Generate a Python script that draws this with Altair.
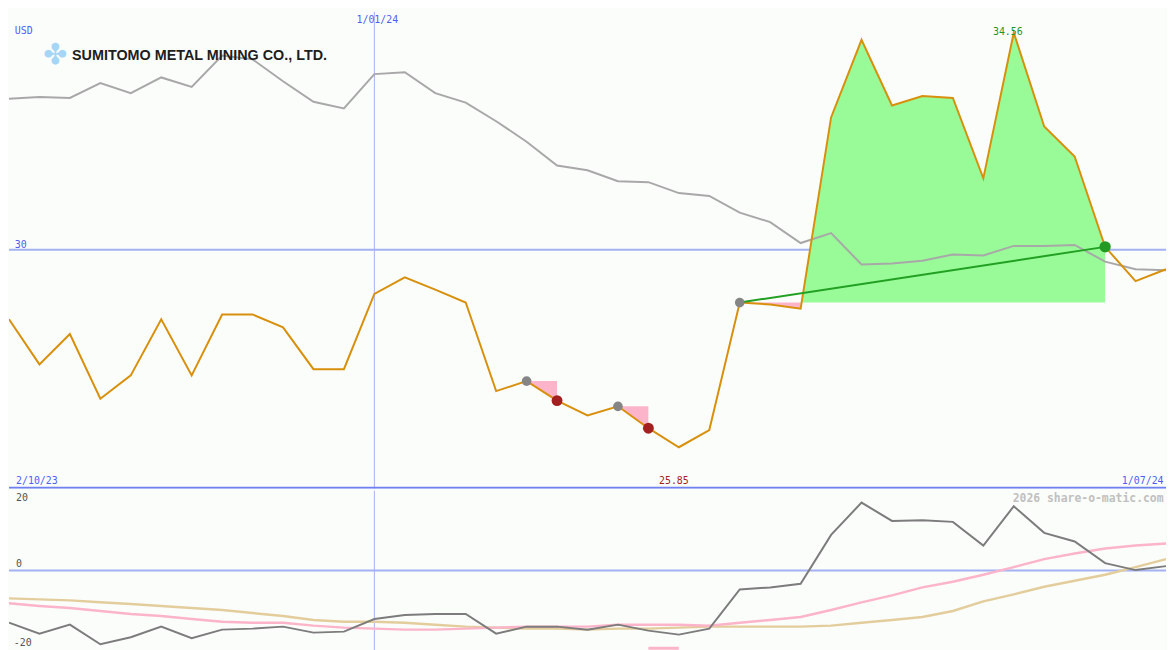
import altair as alt
import pandas as pd

# ---------------- data (weekly, 9/10/23 .. 1/07/24) ----------------
weeks = list(range(39))
price = [28.54, 27.59, 28.23, 26.87, 27.36, 28.54, 27.36, 28.64, 28.64, 28.37,
         27.49, 27.49, 29.07, 29.42, 29.16, 28.89, 27.03, 27.24, 26.83, 26.52,
         26.71, 26.25, 25.85, 26.21, 28.89, 28.85, 28.76, 32.78, 34.41, 33.03,
         33.23, 33.19, 31.50, 34.56, 32.59, 31.96, 30.06, 29.34, 29.59]
relative = [33.17, 33.21, 33.19, 33.50, 33.29, 33.62, 33.42, 34.08, 34.00, 33.54,
            33.11, 32.97, 33.69, 33.73, 33.29, 33.09, 32.70, 32.27, 31.77, 31.67,
            31.44, 31.42, 31.19, 31.13, 30.78, 30.58, 30.14, 30.35, 29.69, 29.71,
            29.77, 29.90, 29.88, 30.08, 30.08, 30.10, 29.75, 29.59, 29.57]
momentum = [-15.7, -19.0, -16.3, -22.2, -20.1, -16.9, -20.4, -17.8, -17.5, -16.9,
            -18.7, -18.4, -14.6, -13.4, -13.1, -13.1, -19.0, -16.9, -16.9, -17.8,
            -16.3, -18.1, -19.3, -17.5, -5.7, -5.1, -4.0, 10.7, 20.4, 14.9,
            15.1, 14.6, 7.5, 19.3, 11.3, 8.7, 2.2, 0.1, 1.3]
avg_fast = [-9.9, -10.7, -11.3, -12.2, -13.1, -13.7, -14.6, -15.4, -15.7, -15.7,
            -16.6, -17.2, -17.5, -17.8, -17.8, -17.5, -17.2, -16.9, -16.9, -16.9,
            -16.3, -16.3, -16.3, -16.6, -15.7, -14.9, -14.0, -11.9, -9.6, -7.5,
            -5.1, -3.4, -1.3, 1.0, 3.4, 5.1, 6.6, 7.5, 8.1]
avg_slow = [-8.4, -8.7, -9.0, -9.6, -10.1, -10.7, -11.3, -11.9, -12.8, -13.7,
            -14.9, -15.4, -15.4, -15.7, -16.3, -16.9, -17.2, -17.5, -17.5, -17.8,
            -17.5, -17.5, -17.2, -16.9, -16.9, -16.9, -16.9, -16.6, -15.7, -14.9,
            -14.0, -12.2, -9.3, -7.2, -4.9, -3.1, -1.3, 1.0, 3.4]

buy_weeks = [17, 20, 24]
sell_weeks = [18, 21]
signal_weeks = [36]
dip_spans = [(17, 18), (20, 21), (24, 26)]
rally_span = (26, 36)
rally_base_week = 24
trend_weeks = [24, 36]
year_week = 12
low_bar_weeks = [21, 22]

company = "SUMITOMO METAL MINING CO., LTD."
currency = "USD"
date_labels = ["2/10/23", "1/01/24", "1/07/24"]
top_tick = "30"
low_ticks = ["20", "0", "-20"]
watermark = "2026 share-o-matic.com"

# ---------------- layout ----------------
W = 1167
H_TOP = 481
H_BOT = 161
BG = "#fbfdfb"
BLUE_TXT = "#4f5ff2"
MONO = "DejaVu Sans Mono"

xs = alt.Scale(domain=[0, 38], nice=False, zero=False)
ys_top = alt.Scale(domain=[24.98, 35.0], nice=False, zero=False)
ys_bot = alt.Scale(domain=[-24, 24], nice=False, zero=False)

df = pd.DataFrame({"i": weeks, "price": price, "rel": relative,
                   "mom": momentum, "fast": avg_fast, "slow": avg_slow})


def X(field="i"):
    return alt.X(f"{field}:Q", scale=xs, axis=None)


def label(rows, yscale, **kw):
    return alt.Chart(pd.DataFrame(rows)).mark_text(**kw).encode(
        x=X(), y=alt.Y("v:Q", scale=yscale, axis=None), text="t:N")


# --- top panel ---
rule30 = alt.Chart(pd.DataFrame({"v": [30]})).mark_rule(
    color="#a4b2f4", strokeWidth=2, clip=True).encode(
    y=alt.Y("v:Q", scale=ys_top, axis=None))
sep = alt.Chart(pd.DataFrame({"v": [25.0]})).mark_rule(
    color="#6f80f0", strokeWidth=2, clip=True).encode(
    y=alt.Y("v:Q", scale=ys_top, axis=None))
vrule_top = alt.Chart(pd.DataFrame({"i": [year_week]})).mark_rule(
    color="#a4b2f4", strokeWidth=1, clip=True).encode(x=X())

rally_rows = [{"i": i, "p": price[i], "base": price[rally_base_week]}
              for i in range(rally_span[0], rally_span[1] + 1)]
rally = alt.Chart(pd.DataFrame(rally_rows)).mark_area(
    color="#98fb98", opacity=1, clip=True).encode(
    x=X(), y=alt.Y("p:Q", scale=ys_top, axis=None), y2="base:Q")

dip_rows = []
for k, (a, b) in enumerate(dip_spans):
    for i in range(a, b + 1):
        dip_rows.append({"seg": k, "i": i, "p": price[i], "base": price[a]})
dips = alt.Chart(pd.DataFrame(dip_rows)).mark_area(
    color="#fbb4c9", opacity=1, clip=True).encode(
    x=X(), y=alt.Y("p:Q", scale=ys_top, axis=None), y2="base:Q",
    detail="seg:N")

rel_line = alt.Chart(df).mark_line(color="#a8a8a8", strokeWidth=2, clip=True).encode(
    x=X(), y=alt.Y("rel:Q", scale=ys_top, axis=None))
price_line = alt.Chart(df).mark_line(color="#d8900c", strokeWidth=2, clip=True).encode(
    x=X(), y=alt.Y("price:Q", scale=ys_top, axis=None))

trend = alt.Chart(pd.DataFrame({"i": trend_weeks,
                                "p": [price[w] for w in trend_weeks]})).mark_line(
    color="#22a022", strokeWidth=2, clip=True).encode(
    x=X(), y=alt.Y("p:Q", scale=ys_top, axis=None))


def dots(ws, color, size):
    return alt.Chart(pd.DataFrame({"i": ws, "p": [price[w] for w in ws]})).mark_circle(
        color=color, size=size, opacity=1).encode(
        x=X(), y=alt.Y("p:Q", scale=ys_top, axis=None))


buy_dots = dots(buy_weeks, "#858585", 95)
sell_dots = dots(sell_weeks, "#a32020", 120)
sig_dots = dots(signal_weeks, "#229922", 130)

hi = price.index(max(price))
lo = price.index(min(price))

t_usd = label([{"i": 0.19, "v": 34.59, "t": currency}], ys_top, align="left",
              baseline="middle", font=MONO, fontSize=10, color=BLUE_TXT)
t_30 = label([{"i": 0.19, "v": 30.10, "t": top_tick}], ys_top, align="left",
             baseline="middle", font=MONO, fontSize=10, color=BLUE_TXT)
t_jan = label([{"i": year_week, "v": 34.82, "t": date_labels[1]}], ys_top, align="center",
              baseline="middle", font=MONO, fontSize=10, color=BLUE_TXT, dx=3)
t_start = label([{"i": 0.23, "v": 25.14, "t": date_labels[0]}], ys_top, align="left",
                baseline="middle", font=MONO, fontSize=10, color=BLUE_TXT)
t_end = label([{"i": 37.92, "v": 25.14, "t": date_labels[2]}], ys_top, align="right",
              baseline="middle", font=MONO, fontSize=10, color=BLUE_TXT)
t_lo = label([{"i": lo, "v": 25.14, "t": f"{min(price):.2f}"}], ys_top, align="center",
             baseline="middle", font=MONO, fontSize=10, color="#a82020", dx=-5)
t_hi = label([{"i": hi, "v": 34.57, "t": f"{max(price):.2f}"}], ys_top, align="center",
             baseline="middle", font=MONO, fontSize=10, color="#1f961f", dx=-6)
t_logo_icon = label([{"i": 1.52, "v": 34.08, "t": "✤"}], ys_top, align="center",
                    baseline="middle", font="DejaVu Sans", fontSize=29, color="#a6d6f6")
t_logo = label([{"i": 2.07, "v": 34.08, "t": company}], ys_top, align="left",
               baseline="middle", font="Liberation Sans", fontSize=14.5,
               fontWeight="bold", color="#1e1e1e")

top = alt.layer(
    rule30, vrule_top, rally, dips, rel_line, price_line, trend,
    buy_dots, sell_dots, sig_dots,
    t_usd, t_30, t_jan, t_start, t_end, t_lo, t_hi, t_logo_icon, t_logo, sep,
).properties(width=W, height=H_TOP)

# --- bottom panel ---
rule0 = alt.Chart(pd.DataFrame({"v": [0]})).mark_rule(
    color="#a4b2f4", strokeWidth=2, clip=True).encode(
    y=alt.Y("v:Q", scale=ys_bot, axis=None))
vrule_bot = alt.Chart(pd.DataFrame({"i": [year_week]})).mark_rule(
    color="#a4b2f4", strokeWidth=1, clip=True).encode(x=X())
slow_line = alt.Chart(df).mark_line(color="#e3cd9c", strokeWidth=2.5, clip=True).encode(
    x=X(), y=alt.Y("slow:Q", scale=ys_bot, axis=None))
fast_line = alt.Chart(df).mark_line(color="#fbb4c9", strokeWidth=2.5, clip=True).encode(
    x=X(), y=alt.Y("fast:Q", scale=ys_bot, axis=None))
mom_line = alt.Chart(df).mark_line(color="#7c7c7c", strokeWidth=2, clip=True).encode(
    x=X(), y=alt.Y("mom:Q", scale=ys_bot, axis=None))
low_bar = alt.Chart(pd.DataFrame({"i": [low_bar_weeks[0]], "i2": [low_bar_weeks[1]],
                                  "v": [-23.4]})).mark_rule(
    color="#fbb4c9", strokeWidth=3, clip=True).encode(
    x=X(), x2="i2:Q", y=alt.Y("v:Q", scale=ys_bot, axis=None))

b20 = label([{"i": 0.23, "v": 21.64, "t": low_ticks[0]}], ys_bot, align="left",
            baseline="middle", font=MONO, fontSize=10, color="#555555")
b0 = label([{"i": 0.23, "v": 1.92, "t": low_ticks[1]}], ys_bot, align="left",
           baseline="middle", font=MONO, fontSize=10, color="#555555")
bm20 = label([{"i": 0.16, "v": -21.85, "t": low_ticks[2]}], ys_bot, align="left",
             baseline="middle", font=MONO, fontSize=10, color="#555555")
wm = label([{"i": 37.92, "v": 21.35, "t": watermark}], ys_bot, align="right",
           baseline="middle", font=MONO, fontSize=11.5, fontWeight="bold",
           color="#c0c0c0")

bottom = alt.layer(
    rule0, vrule_bot, slow_line, fast_line, mom_line, low_bar, b20, b0, bm20, wm,
).properties(width=W, height=H_BOT)

chart = alt.vconcat(top, bottom, spacing=0).properties(
    padding=0, background=BG
).configure_view(stroke="transparent").configure_concat(spacing=0)

chart.save("out.html", embed_options={"renderer": "svg", "actions": False})
